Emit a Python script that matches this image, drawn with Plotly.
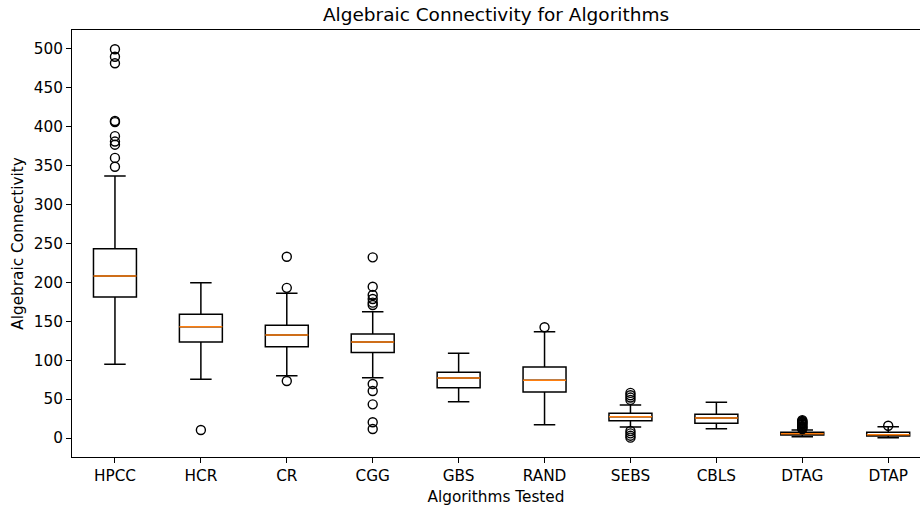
import plotly.graph_objects as go

categories = ["HPCC", "HCR", "CR", "CGG", "GBS", "RAND", "SEBS", "CBLS", "DTAG", "DTAP"]
positions = list(range(1, len(categories) + 1))

q1 = [181.2, 123.4, 117.4, 110.0, 64.7, 59.1, 22.3, 18.9, 3.9, 2.6]
median = [208.2, 143.0, 132.4, 123.4, 77.1, 74.1, 27.4, 25.7, 5.6, 4.3]
q3 = [243.3, 159.0, 144.8, 133.7, 84.4, 91.3, 31.7, 30.4, 7.3, 7.3]
lower_whisker = [94.7, 75.4, 80.0, 77.5, 46.7, 17.1, 14.1, 12.0, 1.7, 0.4]
upper_whisker = [336.8, 199.6, 186.0, 162.4, 108.8, 136.7, 42.4, 45.9, 10.3, 14.5]

outliers = {
    "HPCC": [499.6, 490.0, 481.6, 407.5, 406.0, 388.0, 381.0, 377.0, 360.0, 348.7],
    "HCR": [10.3],
    "CR": [233.0, 193.0, 73.3],
    "CGG": [232.2, 194.5, 183.8, 178.7, 174.0, 171.0, 69.4, 60.4, 43.3, 20.2, 11.6],
    "GBS": [],
    "RAND": [142.3],
    "SEBS": [58.0, 55.0, 52.0, 49.0, 9.0, 6.0, 3.0, 0.5],
    "CBLS": [],
    "DTAG": [11.5, 12.5, 13.5, 14.5, 15.5, 17.0, 18.0, 19.0, 20.0, 21.0, 22.0, 23.0],
    "DTAP": [15.8],
}

y_ticks = [0, 50, 100, 150, 200, 250, 300, 350, 400, 450, 500]

FONT = "DejaVu Sans"

fig = go.Figure()

fig.add_trace(go.Box(
    x=positions,
    q1=q1, median=median, q3=q3,
    lowerfence=lower_whisker, upperfence=upper_whisker,
    width=0.5, whiskerwidth=0.5,
    boxpoints=False,
    line=dict(color="black", width=1.5),
    fillcolor="rgba(255,255,255,0)",
    showlegend=False, hoverinfo="skip",
))

mx, my = [], []
for p, m in zip(positions, median):
    mx += [p - 0.25, p + 0.25, None]
    my += [m, m, None]
fig.add_trace(go.Scatter(
    x=mx, y=my, mode="lines",
    line=dict(color="#ff7f0e", width=1.5),
    showlegend=False, hoverinfo="skip",
))

ox, oy = [], []
for p, c in zip(positions, categories):
    for v in outliers[c]:
        ox.append(p)
        oy.append(v)
fig.add_trace(go.Scatter(
    x=ox, y=oy, mode="markers",
    marker=dict(symbol="circle-open", size=9, color="black", line=dict(width=1.4, color="black")),
    showlegend=False, hoverinfo="skip",
))

fig.update_layout(
    width=920, height=508,
    margin=dict(l=72, r=0, t=30, b=51),
    paper_bgcolor="white", plot_bgcolor="white",
    font=dict(family=FONT, size=15.3, color="black"),
    title=dict(text="Algebraic Connectivity for Algorithms", x=0.5, xref="paper",
               y=1 - 15 / 508, yref="container", yanchor="middle", xanchor="center",
               font=dict(size=18.5, family=FONT, color="black")),
    showlegend=False,
)

fig.update_xaxes(
    range=[0.5, 10.37],
    tickmode="array", tickvals=positions, ticktext=categories,
    showgrid=False, zeroline=False,
    showline=True, linecolor="black", linewidth=1.1, mirror=True,
    ticks="outside", ticklen=5, tickwidth=1.1, tickcolor="black",
    title=dict(text="Algorithms Tested", standoff=6, font=dict(size=15.3, family=FONT)),
)
fig.update_yaxes(
    range=[-24.4, 524.4],
    tickmode="array", tickvals=y_ticks,
    showgrid=False, zeroline=False,
    showline=True, linecolor="black", linewidth=1.1,
    ticks="outside", ticklen=5, tickwidth=1.1, tickcolor="black",
    title=dict(text="Algebraic Connectivity", standoff=6, font=dict(size=15.3, family=FONT)),
)

fig.write_html("out.html")
